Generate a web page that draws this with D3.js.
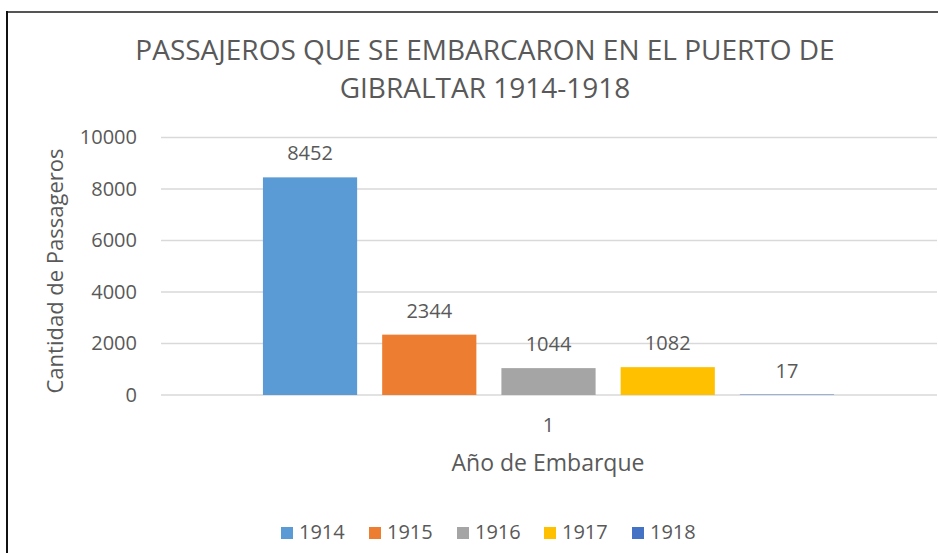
<!DOCTYPE html>
<html>
<head>
<meta charset="utf-8">
<script src="https://cdn.jsdelivr.net/npm/d3@7"></script>
<style>
  body { margin: 0; background: #fff; }
  text { font-family: "Open Sans", sans-serif; fill: #595959; }
</style>
</head>
<body>
<script>
// Chart data
var categories = ["1"];
var years = ["1914", "1915", "1916", "1917", "1918"];
var passengers = [8452, 2344, 1044, 1082, 17];
var yTicks = [0, 2000, 4000, 6000, 8000, 10000];
var colors = ["#5B9BD5", "#ED7D31", "#A5A5A5", "#FFC000", "#4472C4"];

//Width and height
var w = 938;
var h = 553;

var svg = d3.select("body")
    .append("svg")
    .attr("width", w)
    .attr("height", h);

//Chart border (only left and top are visible in the crop)
svg.append("line")
    .attr("x1", 7).attr("x2", w).attr("y1", 12).attr("y2", 12)
    .style("stroke", "#555").style("stroke-width", 2);
svg.append("line")
    .attr("x1", 7).attr("x2", 7).attr("y1", 11).attr("y2", h)
    .style("stroke", "#111").style("stroke-width", 2);

//Scales
var y = d3.scaleLinear()
    .domain([0, 10000])
    .range([395, 137.5]);

var x0 = d3.scaleBand()
    .domain(categories)
    .range([161, 936]);

var x1 = d3.scaleBand()
    .domain(years)
    .range([x0("1"), x0("1") + x0.bandwidth()])
    .paddingInner(0.21)
    .paddingOuter(0.855);

var color = d3.scaleOrdinal()
    .domain(years)
    .range(colors);

//Gridlines
svg.append("g")
    .selectAll("line")
    .data(yTicks)
    .enter()
    .append("line")
    .attr("x1", 161)
    .attr("x2", 937)
    .attr("y1", function (d) { return y(d); })
    .attr("y2", function (d) { return y(d); })
    .style("stroke", "#D9D9D9")
    .style("stroke-width", 1.5);

//Y axis labels
var yAxis = d3.axisLeft(y).tickValues(yTicks).tickSize(0).tickPadding(0)
    .tickFormat(d3.format("d"));
svg.append("g")
    .attr("transform", "translate(137,0)")
    .call(yAxis)
    .call(function (g) { g.select(".domain").remove(); })
    .selectAll("text")
    .style("font-size", "20px")
    .style("fill", "#595959");

//X axis label
var xAxis = d3.axisBottom(x0).tickSize(0).tickPadding(0);
svg.append("g")
    .attr("transform", "translate(0,418)")
    .call(xAxis)
    .call(function (g) { g.select(".domain").remove(); })
    .selectAll("text")
    .style("font-size", "20px")
    .style("fill", "#595959");

//Bars
var rows = years.map(function (yr, i) { return { year: yr, value: passengers[i] }; });

svg.append("g")
    .selectAll("rect")
    .data(rows)
    .enter()
    .append("rect")
    .attr("x", function (d) { return x1(d.year); })
    .attr("y", function (d) { return y(d.value); })
    .attr("width", x1.bandwidth())
    .attr("height", function (d) { return y(0) - y(d.value); })
    .style("fill", function (d) { return color(d.year); });

//Value labels
svg.append("g")
    .selectAll("text")
    .data(rows)
    .enter()
    .append("text")
    .attr("x", function (d) { return x1(d.year) + x1.bandwidth() / 2; })
    .attr("y", function (d) { return y(d.value) - 17; })
    .attr("text-anchor", "middle")
    .style("font-size", "20px")
    .text(function (d) { return d.value; });

//Title
var title = svg.append("text")
    .attr("text-anchor", "middle")
    .style("font-size", "28px");
title.append("tspan").attr("x", 485).attr("y", 60)
    .text("PASSAJEROS QUE SE EMBARCARON EN EL PUERTO DE");
title.append("tspan").attr("x", 485).attr("y", 98)
    .text("GIBRALTAR 1914-1918");

//Axis titles
svg.append("text")
    .attr("transform", "translate(63,271) rotate(-90)")
    .attr("text-anchor", "middle")
    .style("font-size", "22px")
    .text("Cantidad de Passageros");

svg.append("text")
    .attr("x", 548)
    .attr("y", 471)
    .attr("text-anchor", "middle")
    .style("font-size", "23px")
    .text("Año de Embarque");

//Legend
var legendX = [281, 369, 457, 544, 632];
var legend = svg.append("g")
    .selectAll("g")
    .data(years)
    .enter()
    .append("g")
    .attr("transform", function (d, i) { return "translate(" + legendX[i] + ",527)"; });

legend.append("rect")
    .attr("width", 12)
    .attr("height", 12)
    .style("fill", function (d) { return color(d); });

legend.append("text")
    .attr("x", 18)
    .attr("y", 12)
    .style("font-size", "20px")
    .text(function (d) { return d; });
</script>
</body>
</html>
